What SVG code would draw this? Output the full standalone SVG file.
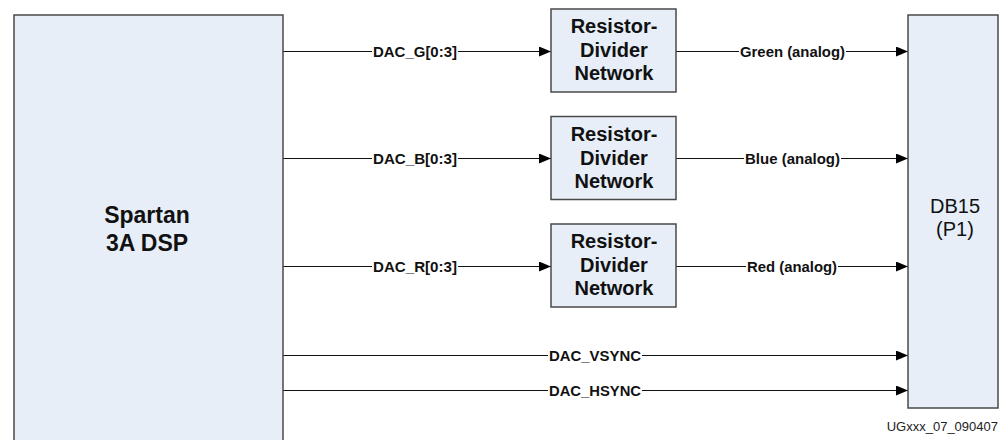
<svg xmlns="http://www.w3.org/2000/svg" width="1005" height="440" viewBox="0 0 1005 440">
  <defs>
    <marker id="arrow" viewBox="0 0 12 10" refX="12" refY="5" markerWidth="12" markerHeight="10" markerUnits="userSpaceOnUse" orient="auto">
      <path d="M0,0 L12,5 L0,10 Z" fill="#000"/>
    </marker>
    <style>
      .box { fill: #E7EEF8; stroke: #4a4a4a; stroke-width: 1.5; }
      .line { stroke: #111; stroke-width: 1; fill: none; marker-end: url(#arrow); }
      .big { font-family: "Liberation Sans", Arial, sans-serif; font-weight: bold; font-size: 23px; fill: #111; text-anchor: middle; }
      .rd { font-family: "Liberation Sans", Arial, sans-serif; font-weight: bold; font-size: 20px; fill: #111; text-anchor: middle; }
      .db { font-family: "Liberation Sans", Arial, sans-serif; font-size: 20px; fill: #111; text-anchor: middle; }
      .lbl { font-family: "Liberation Sans", Arial, sans-serif; font-weight: bold; font-size: 14px; fill: #111; }
      .bg { fill: #fff; }
      .note { font-family: "Liberation Sans", Arial, sans-serif; font-size: 13px; fill: #222; text-anchor: end; }
    </style>
  </defs>
  <rect width="1005" height="440" fill="#fff"/>

  <g id="connectors">
    <line class="line" x1="283" y1="51.5" x2="551" y2="51.5"/>
    <line class="line" x1="283" y1="158.5" x2="551" y2="158.5"/>
    <line class="line" x1="283" y1="266.5" x2="551" y2="266.5"/>
    <line class="line" x1="676" y1="51.5" x2="908" y2="51.5"/>
    <line class="line" x1="676" y1="158.5" x2="908" y2="158.5"/>
    <line class="line" x1="676" y1="266.5" x2="908" y2="266.5"/>
    <line class="line" x1="283" y1="355.5" x2="908" y2="355.5"/>
    <line class="line" x1="283" y1="390.5" x2="908" y2="390.5"/>

    <rect class="bg" x="372" y="43" width="86" height="17"/>
    <text class="lbl" x="373" y="56.5" textLength="84" lengthAdjust="spacingAndGlyphs">DAC_G[0:3]</text>
    <rect class="bg" x="372" y="150" width="86" height="17"/>
    <text class="lbl" x="373" y="163.5" textLength="84" lengthAdjust="spacingAndGlyphs">DAC_B[0:3]</text>
    <rect class="bg" x="372" y="258" width="86" height="17"/>
    <text class="lbl" x="373" y="271.5" textLength="84" lengthAdjust="spacingAndGlyphs">DAC_R[0:3]</text>

    <rect class="bg" x="739" y="43" width="107" height="17"/>
    <text class="lbl" x="740" y="56.5" textLength="105" lengthAdjust="spacingAndGlyphs">Green (analog)</text>
    <rect class="bg" x="744" y="150" width="97" height="17"/>
    <text class="lbl" x="745" y="163.5" textLength="95" lengthAdjust="spacingAndGlyphs">Blue (analog)</text>
    <rect class="bg" x="746" y="258" width="92" height="17"/>
    <text class="lbl" x="747" y="271.5" textLength="90" lengthAdjust="spacingAndGlyphs">Red (analog)</text>

    <rect class="bg" x="548" y="347" width="94" height="17"/>
    <text class="lbl" x="549" y="360.5" textLength="92" lengthAdjust="spacingAndGlyphs">DAC_VSYNC</text>
    <rect class="bg" x="548" y="382" width="94" height="17"/>
    <text class="lbl" x="549" y="395.5" textLength="92" lengthAdjust="spacingAndGlyphs">DAC_HSYNC</text>
  </g>

  <g id="spartan">
    <rect class="box" x="14" y="15" width="269" height="440"/>
    <text class="big" x="147" y="223">Spartan</text>
    <text class="big" x="147" y="251">3A DSP</text>
  </g>

  <g id="rdn-green">
    <rect class="box" x="551" y="9" width="125" height="83"/>
    <text class="rd" x="614" y="33">Resistor-</text>
    <text class="rd" x="614" y="57">Divider</text>
    <text class="rd" x="614" y="80">Network</text>
  </g>

  <g id="rdn-blue">
    <rect class="box" x="551" y="116.5" width="125" height="83"/>
    <text class="rd" x="614" y="140.5">Resistor-</text>
    <text class="rd" x="614" y="164.5">Divider</text>
    <text class="rd" x="614" y="187.5">Network</text>
  </g>

  <g id="rdn-red">
    <rect class="box" x="551" y="224" width="125" height="83"/>
    <text class="rd" x="614" y="248">Resistor-</text>
    <text class="rd" x="614" y="272">Divider</text>
    <text class="rd" x="614" y="295">Network</text>
  </g>

  <g id="db15">
    <rect class="box" x="908" y="15" width="90" height="393"/>
    <text class="db" x="955" y="213">DB15</text>
    <text class="db" x="955" y="236">(P1)</text>
  </g>

  <text class="note" x="998" y="431">UGxxx_07_090407</text>
</svg>
